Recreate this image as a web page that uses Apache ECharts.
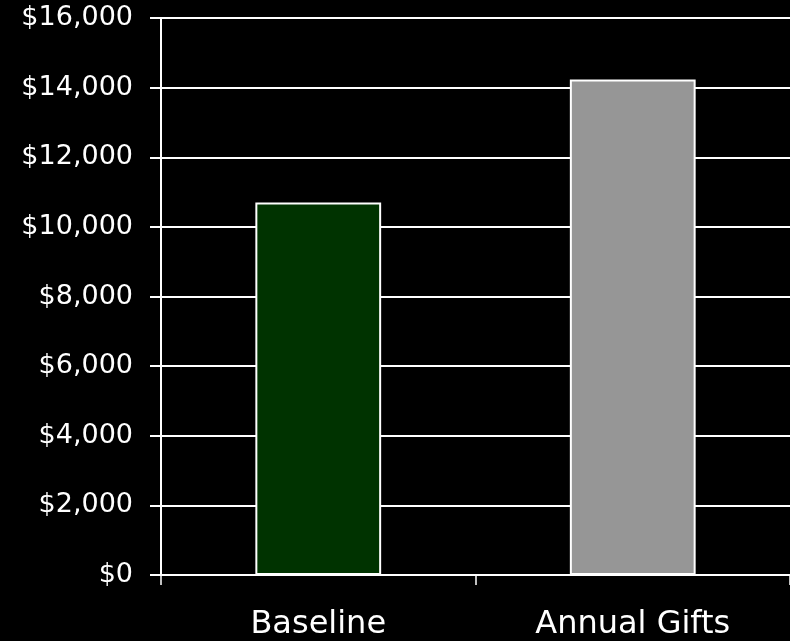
<!DOCTYPE html>
<html>
<head>
<meta charset="utf-8">
<script src="https://cdn.jsdelivr.net/npm/echarts@6/dist/echarts.min.js"></script>
<style>
html,body{margin:0;padding:0;background:#000;}
#chart{width:790px;height:641px;}
</style>
</head>
<body>
<div id="chart"></div>
<script>
var categories = ['Baseline', 'Annual Gifts'];
var values = [10700, 14230];
var barColors = ['#003300', '#969696'];
var yMin = 0, yMax = 16000, yInterval = 2000;

var chart = echarts.init(document.getElementById('chart'), null, {renderer: 'canvas'});
chart.setOption({
  backgroundColor: '#000',
  animation: false,
  grid: {left: 161, width: 632, top: 18, bottom: 64, containLabel: false},
  xAxis: {
    type: 'category',
    data: categories,
    boundaryGap: true,
    axisLine: {show: true, lineStyle: {color: '#fff', width: 2}},
    axisTick: {show: true, length: 10, lineStyle: {color: '#fff', width: 1.5}},
    axisLabel: {color: '#fff', fontSize: 32, fontFamily: 'DejaVu Sans', margin: 34}
  },
  yAxis: {
    type: 'value',
    min: yMin, max: yMax, interval: yInterval,
    axisLine: {show: true, lineStyle: {color: '#fff', width: 2}},
    axisTick: {show: true, length: 11, lineStyle: {color: '#fff', width: 2}},
    splitLine: {show: true, lineStyle: {color: '#fff', width: 2}},
    axisLabel: {
      color: '#fff', fontSize: 27, fontFamily: 'DejaVu Sans', margin: 28,
      formatter: function (v) { return '$' + v.toLocaleString('en-US'); }
    }
  },
  series: [{
    type: 'bar',
    barWidth: '40%',
    data: values.map(function (v, i) {
      return {value: v, itemStyle: {color: barColors[i], borderColor: '#fff', borderWidth: 2}};
    })
  }]
});
</script>
</body>
</html>
